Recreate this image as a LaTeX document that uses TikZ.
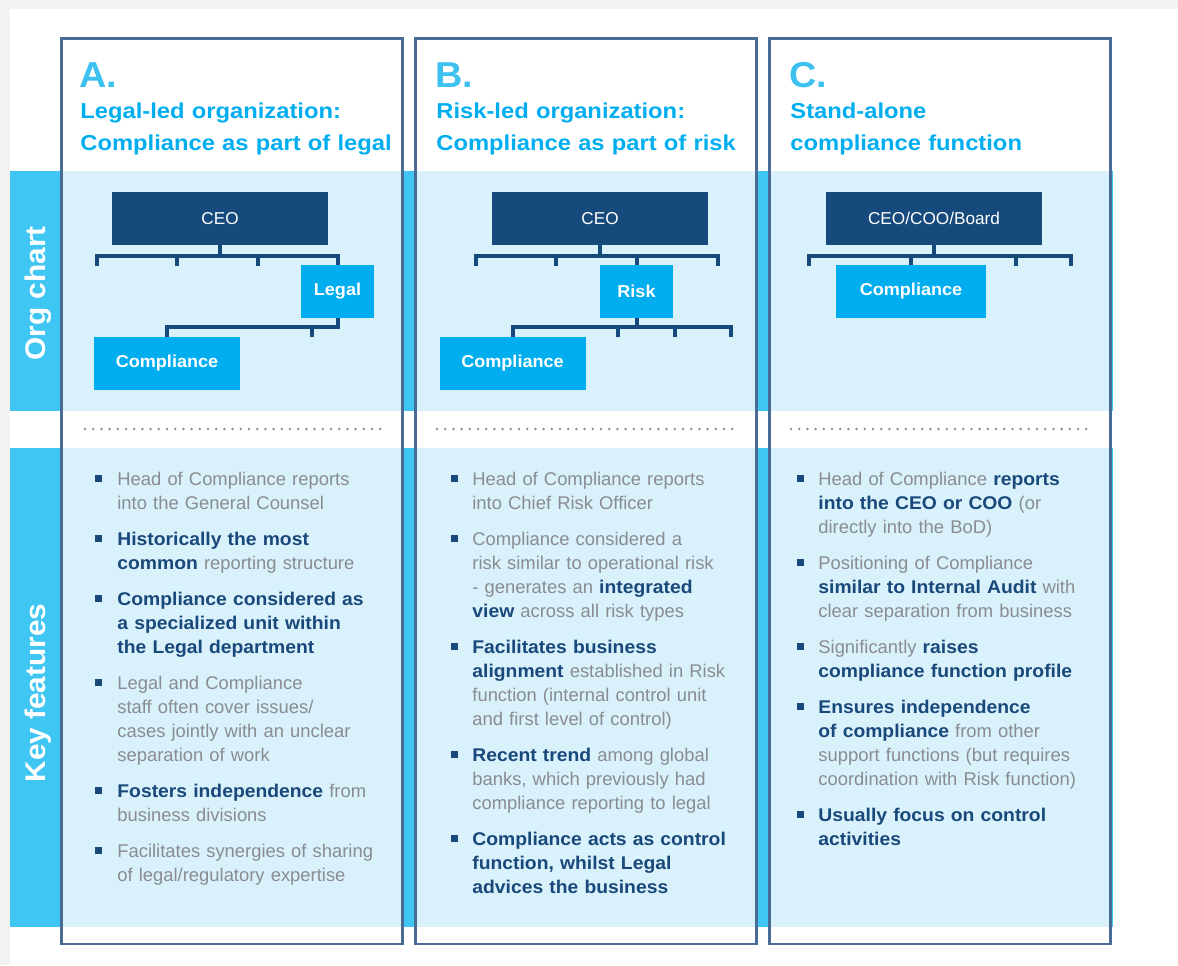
\documentclass[tikz,border=0pt]{standalone}
\usepackage{fontspec}
\setmainfont{Liberation Sans}[BoldFeatures={FakeStretch=1.05}]
\newfontfamily\headfont{Liberation Sans}[FakeStretch=1.1]
\usepackage{xcolor}

\definecolor{pagegray}{RGB}{242,242,242}
\definecolor{bandblue}{RGB}{64,198,242}
\definecolor{paleblue}{RGB}{217,241,251}
\definecolor{navybox}{RGB}{23,74,124}
\definecolor{unitblue}{RGB}{0,174,239}
\definecolor{framecol}{RGB}{72,108,150}
\definecolor{titlecyan}{RGB}{0,174,239}
\definecolor{lettercyan}{RGB}{61,193,240}
\definecolor{txtgray}{RGB}{137,140,145}
\definecolor{boldnavy}{RGB}{25,72,122}
\definecolor{dotgray}{RGB}{145,145,145}

\newcommand{\hl}[1]{\textbf{\color{boldnavy}#1}}

\tikzset{
	colframe/.style={draw=framecol, line width=1.4pt},
	topbox/.style={fill=navybox, text=white, inner sep=0pt,
			minimum width=108pt, minimum height=26.5pt,
			font=\fontsize{8.6}{10}\selectfont},
	unitbox/.style={fill=unitblue, text=white, inner sep=0pt,
			minimum height=26.5pt, font=\fontsize{8.6}{10}\selectfont\bfseries},
	link/.style={draw=navybox, line width=2pt},
	dotrow/.style={draw=dotgray, line width=1.4pt, line cap=round,
			dash pattern=on 0pt off 4.1pt},
	kfbullet/.style={fill=boldnavy, minimum size=3.5pt, inner sep=0pt},
	kfitem/.style={anchor=base west, inner sep=0pt, text width=140pt,
			align=left, text=txtgray, font=\fontsize{9.2}{12}\selectfont},
	colletter/.style={anchor=base west, inner sep=0pt, text=lettercyan,
			font=\fontsize{18}{20}\selectfont\bfseries},
	coltitle/.style={anchor=base west, inner sep=0pt, text width=170pt,
			align=left, text=titlecyan,
			font=\headfont\bfseries\fontsize{10.8}{16}\selectfont},
	sidelabel/.style={rotate=90, anchor=base, inner sep=0pt, text=white,
			font=\fontsize{14.2}{16}\selectfont\bfseries}
}

\begin{document}
\begin{tikzpicture}[x=0.5pt, y=-0.5pt]
	\useasboundingbox (0,0) rectangle (1178,965);

	% Page background
	\fill[pagegray] (0,0) rectangle (1178,965);
	\fill[white] (10,9) rectangle (1178,965);

	% Bands behind the columns
	\fill[bandblue] (10,171) rectangle (1113,410.5);
	\fill[bandblue] (10,448) rectangle (1113,927);
	\fill[paleblue] (61.5,171) rectangle (402.5,410.5);
	\fill[paleblue] (415.5,171) rectangle (756.5,410.5);
	\fill[paleblue] (769.5,171) rectangle (1110.5,410.5);
	\fill[paleblue] (61.5,448) rectangle (402.5,927);
	\fill[paleblue] (415.5,448) rectangle (756.5,927);
	\fill[paleblue] (769.5,448) rectangle (1110.5,927);

	% Side labels
	\node[sidelabel] (orgLbl) at (46,293.5) {Org chart};
	\node[sidelabel] (keyLbl) at (46,693) {Key features};

	% Dotted separators
	\draw[dotrow] (85,429) -- (382,429);
	\draw[dotrow] (437,429) -- (737,429);
	\draw[dotrow] (791,429) -- (1090,429);

	% Column frames
	\draw[colframe] (61.5,38.5) rectangle (402.5,944);
	\draw[colframe] (415.5,38.5) rectangle (756.5,944);
	\draw[colframe] (769.5,38.5) rectangle (1110.5,944);

	% Column headings
	\node[colletter] (letA) at (79,87) {A.};
	\node[coltitle] (titleA) at (80,118) {Legal-led organization:\\Compliance as part of legal};
	\node[colletter] (letB) at (435,87) {B.};
	\node[coltitle] (titleB) at (436,118) {Risk-led organization:\\Compliance as part of risk};
	\node[colletter] (letC) at (789,87) {C.};
	\node[coltitle] (titleC) at (790,118) {Stand-alone\\compliance function};

	% Org chart A
	\node[topbox] (ceoA) at (220,218.5) {CEO};
	\node[unitbox, minimum width=36.5pt] (legalA) at (337.5,291.5) {Legal};
	\node[unitbox, minimum width=73pt] (compA) at (167,363.5) {Compliance};
	\coordinate (ta1) at (96.5,265.5);
	\coordinate (ta2) at (177,265.5);
	\coordinate (ta3) at (257.5,265.5);
	\coordinate (ta4) at (312,337);
	\draw[link] (ceoA.south) -- ++(0,10.5);
	\draw[link] (ta1) -- ++(0,-10) -| (legalA.north);
	\draw[link] (ta2) -- ++(0,-10);
	\draw[link] (ta3) -- ++(0,-10);
	\draw[link] (compA.north) -- ++(0,-9.5) -| (legalA.south);
	\draw[link] (ta4) -- ++(0,-9.5);

	% Org chart B
	\node[topbox] (ceoB) at (600,218.5) {CEO};
	\node[unitbox, minimum width=36.5pt] (riskB) at (636.5,291.5) {Risk};
	\node[unitbox, minimum width=73pt] (compB) at (512.5,363.5) {Compliance};
	\coordinate (tb1) at (475.5,265.5);
	\coordinate (tb2) at (556,265.5);
	\coordinate (tb4) at (717.5,265.5);
	\coordinate (tb5) at (617.5,337);
	\coordinate (tb6) at (674.5,337);
	\coordinate (tb7) at (731,337);
	\draw[link] (ceoB.south) -- ++(0,10.5);
	\draw[link] (tb1) -- ++(0,-10) -| (tb4);
	\draw[link] (tb2) -- ++(0,-10);
	\draw[link] (riskB.north) -- ++(0,-9.5);
	\draw[link] (riskB.south) -- ++(0,9.5);
	\draw[link] (compB.north) -- ++(0,-10) -| (tb7);
	\draw[link] (tb5) -- ++(0,-10);
	\draw[link] (tb6) -- ++(0,-10);

	% Org chart C
	\node[topbox] (ceoC) at (934,218.5) {CEO/COO/Board};
	\node[unitbox, minimum width=75pt] (compC) at (911,291.5) {Compliance};
	\coordinate (tc1) at (808.5,265.5);
	\coordinate (tc3) at (1015.5,265.5);
	\coordinate (tc4) at (1070.5,265.5);
	\draw[link] (ceoC.south) -- ++(0,10.5);
	\draw[link] (tc1) -- ++(0,-10) -| (tc4);
	\draw[link] (compC.north) -- ++(0,-9.5);
	\draw[link] (tc3) -- ++(0,-10);

	% Bullets
	\foreach \i/\y in {1/485,2/545,3/605,4/689,5/797,6/857}
		\node[kfbullet] (bA\i) at (98.5,\y-6.5) {};
	\foreach \i/\y in {1/485,2/545,3/653,4/761,5/845}
		\node[kfbullet] (bB\i) at (454,\y-6.5) {};
	\foreach \i/\y in {1/485,2/569,3/653,4/713,5/821}
		\node[kfbullet] (bC\i) at (800,\y-6.5) {};

	% Key features A
	\node[kfitem] (kA1) at (117,485) {Head of Compliance reports\\into the General Counsel};
	\node[kfitem] (kA2) at (117,545) {\hl{Historically the most}\\\hl{common} reporting structure};
	\node[kfitem] (kA3) at (117,605) {\hl{Compliance considered as}\\\hl{a specialized unit within}\\\hl{the Legal department}};
	\node[kfitem] (kA4) at (117,689) {Legal and Compliance\\staff often cover issues/\\cases jointly with an unclear\\separation of work};
	\node[kfitem] (kA5) at (117,797) {\hl{Fosters independence} from\\business divisions};
	\node[kfitem] (kA6) at (117,857) {Facilitates synergies of sharing\\of legal/regulatory expertise};

	% Key features B
	\node[kfitem] (kB1) at (472,485) {Head of Compliance reports\\into Chief Risk Officer};
	\node[kfitem] (kB2) at (472,545) {Compliance considered a\\risk similar to operational risk\\- generates an \hl{integrated}\\\hl{view} across all risk types};
	\node[kfitem] (kB3) at (472,653) {\hl{Facilitates business}\\\hl{alignment} established in Risk\\function (internal control unit\\and first level of control)};
	\node[kfitem] (kB4) at (472,761) {\hl{Recent trend} among global\\banks, which previously had\\compliance reporting to legal};
	\node[kfitem] (kB5) at (472,845) {\hl{Compliance acts as control}\\\hl{function, whilst Legal}\\\hl{advices the business}};

	% Key features C
	\node[kfitem] (kC1) at (818,485) {Head of Compliance \hl{reports}\\\hl{into the CEO or COO} (or\\directly into the BoD)};
	\node[kfitem] (kC2) at (818,569) {Positioning of Compliance\\\hl{similar to Internal Audit} with\\clear separation from business};
	\node[kfitem] (kC3) at (818,653) {Significantly \hl{raises}\\\hl{compliance function profile}};
	\node[kfitem] (kC4) at (818,713) {\hl{Ensures independence}\\\hl{of compliance} from other\\support functions (but requires\\coordination with Risk function)};
	\node[kfitem] (kC5) at (818,821) {\hl{Usually focus on control}\\\hl{activities}};
\end{tikzpicture}
\end{document}
